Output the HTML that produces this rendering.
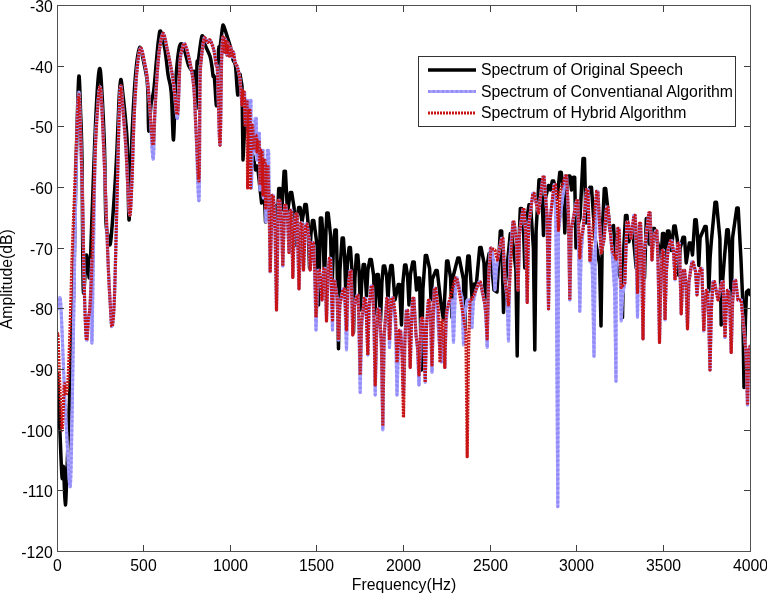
<!DOCTYPE html>
<html><head><meta charset="utf-8"><style>
html,body{margin:0;padding:0;background:#fff;width:767px;height:593px;overflow:hidden}
svg{display:block;will-change:transform}
text{font-family:"Liberation Sans",sans-serif;font-size:15.8px;fill:#000}
</style></head><body>
<svg width="767" height="593" viewBox="0 0 767 593">
<defs><clipPath id="c"><rect x="57.5" y="5.5" width="693.0" height="546.0"/></clipPath></defs>
<g clip-path="url(#c)" fill="none" stroke-linejoin="round">
<path d="M57.5 372.0C57.8 380.0 58.8 402.5 59.5 420.0C60.2 437.5 61.3 469.2 62.0 477.0C62.7 484.8 63.0 462.3 63.5 467.0C64.0 471.7 64.7 504.5 65.3 505.0C65.9 505.5 66.3 487.5 67.0 470.0C67.7 452.5 68.7 423.3 69.5 400.0C70.3 376.7 71.3 347.3 72.0 330.0C72.7 312.7 73.0 314.3 73.5 296.0C74.0 277.7 74.5 244.3 75.0 220.0C75.5 195.7 75.9 173.8 76.5 150.0C77.1 126.2 78.1 83.7 78.8 77.0C79.4 70.3 80.0 96.2 80.5 110.0C81.0 123.8 81.5 130.0 82.0 160.0C82.5 190.0 82.6 274.2 83.3 290.0C84.0 305.8 85.4 257.1 86.4 255.0C87.4 252.9 88.7 281.7 89.5 277.5C90.3 273.3 90.7 251.6 91.5 230.0C92.3 208.4 93.6 170.5 94.5 148.0C95.4 125.5 96.2 108.2 97.0 95.0C97.8 81.8 98.8 70.4 99.5 68.8C100.2 67.1 100.7 71.8 101.5 85.0C102.3 98.2 103.8 125.8 104.5 148.0C105.2 170.2 105.2 203.3 105.8 218.0C106.3 232.7 107.2 231.8 108.0 236.0C108.8 240.2 109.5 249.0 110.5 243.0C111.5 237.0 112.9 215.8 114.0 200.0C115.1 184.2 116.2 164.7 117.0 148.0C117.8 131.3 118.4 111.4 119.0 100.0C119.6 88.6 120.1 80.3 120.8 79.5C121.4 78.7 122.1 87.4 123.0 95.0C123.9 102.6 125.2 115.8 126.0 125.0C126.8 134.2 127.0 134.2 127.5 150.0C128.0 165.8 128.4 218.3 129.0 220.0C129.6 221.7 130.2 180.0 131.0 160.0C131.8 140.0 132.8 115.8 133.8 100.0C134.7 84.2 135.5 73.8 136.5 65.0C137.5 56.2 138.5 47.7 139.8 47.2C141.0 46.8 142.6 57.2 143.8 62.5C144.9 67.8 146.2 73.3 146.9 78.8C147.6 84.2 147.7 86.3 148.0 95.0C148.3 103.7 148.2 129.3 148.8 131.0C149.2 132.7 150.2 111.8 151.0 105.0C151.8 98.2 152.8 97.5 153.8 90.0C154.7 82.5 155.7 68.3 156.5 60.0C157.3 51.7 157.8 44.8 158.5 40.0C159.2 35.2 159.5 29.6 160.6 31.2C161.7 32.9 163.8 42.7 165.0 50.0C166.2 57.3 167.1 68.0 168.1 75.0C169.1 82.0 170.3 81.2 171.2 92.0C172.2 102.8 172.8 141.3 173.5 140.0C174.2 138.7 174.7 99.0 175.6 84.0C176.5 69.0 177.7 56.7 178.8 50.0C179.8 43.3 180.9 43.4 181.9 43.8C182.9 44.1 183.9 48.3 185.0 52.0C186.1 55.7 187.4 62.6 188.8 66.0C190.1 69.4 192.2 71.2 193.1 72.5C194.0 73.8 193.9 68.0 194.4 74.0C194.9 80.0 195.6 110.4 196.0 108.8C196.4 107.1 196.7 71.7 197.0 64.0C197.3 56.3 197.3 67.1 198.1 62.5C198.9 57.9 200.7 39.0 201.9 36.2C203.2 33.5 204.2 42.9 205.6 46.2C206.9 49.6 208.9 52.9 210.0 56.2C211.1 59.6 211.4 62.9 211.9 66.2C212.4 69.6 212.7 74.4 213.1 76.2C213.5 78.1 213.8 72.6 214.4 77.5C215.0 82.4 216.0 107.9 216.6 105.6C217.2 103.3 217.7 73.4 218.1 63.8C218.5 54.1 218.4 50.2 218.8 47.5C219.1 44.8 219.4 50.8 220.0 47.5C220.6 44.2 221.9 31.0 222.5 27.5C223.1 24.0 222.9 24.6 223.8 26.2C224.6 27.9 226.4 34.0 227.5 37.5C228.6 41.0 229.7 43.8 230.6 47.5C231.5 51.2 232.3 56.9 233.1 60.0C233.9 63.1 234.7 60.2 235.5 66.0C236.3 71.8 237.1 93.7 237.8 95.0C238.6 96.3 239.3 75.5 240.0 74.0L242.0 86.0L243.0 160.0L244.3 135.5L245.3 125.6L246.7 125.6L249.0 135.0L251.5 150.0L254.0 161.0L255.5 170.0L257.0 166.0L258.0 170.0L261.6 203.0L262.8 190.6L264.2 190.6L265.5 222.0L267.3 200.6L268.7 200.6L269.6 210.5L271.0 235.0L272.4 214.0L273.8 205.6L275.2 205.6L277.0 230.0L278.7 188.6L280.1 188.6L281.9 210.0L284.1 171.2L285.4 171.2L287.5 212.5L290.3 192.5L291.7 192.5L294.1 207.8L295.5 245.0L296.9 218.4L298.7 207.6L300.1 207.6L302.0 222.0L304.9 204.6L306.3 204.6L308.1 223.2L309.5 268.0L310.9 234.4L312.4 220.6L313.8 220.6L317.1 245.5L318.5 305.0L319.9 243.8L320.3 218.1L321.7 218.1L323.1 236.8L324.5 282.0L325.9 233.3L326.8 213.1L328.2 213.1L330.6 235.8L332.0 290.0L333.4 247.6L334.9 230.0L336.3 230.0L337.1 265.2L338.5 348.8L339.9 270.9L342.1 238.1L343.4 238.1L344.6 256.2L346.0 300.0L347.4 262.9L349.1 247.6L350.4 247.6L352.1 272.6L353.5 332.5L354.9 277.8L356.4 255.0L357.8 255.0L359.1 271.1L360.5 310.0L361.9 277.8L363.2 264.6L364.6 264.6L365.1 273.6L366.5 296.0L367.9 269.9L369.9 259.4L371.3 259.4L373.6 275.3L375.0 314.0L376.4 285.8L376.9 274.4L378.3 274.4L379.1 288.2L380.5 322.0L381.9 282.4L383.3 266.1L384.7 266.1L386.6 275.9L388.0 300.0L389.4 275.5L390.8 265.6L392.2 265.6L395.0 300.0L398.3 284.4L399.7 284.4L400.1 296.1L401.5 325.0L402.9 282.6L404.6 265.1L405.9 265.1L407.6 276.6L409.0 305.0L410.4 274.4L412.8 261.9L414.2 261.9L416.5 290.0L418.3 278.1L419.7 278.1L420.1 305.2L421.5 370.0L422.9 289.5L425.3 255.6L426.7 255.6L429.6 268.5L431.0 300.0L432.4 279.0L435.8 270.6L437.2 270.6L441.0 304.0L443.5 320.0L446.6 261.1L447.9 261.1L450.6 277.6L452.0 317.5L453.4 275.5L457.8 258.1L459.2 258.1L463.4 279.2L464.8 330.0L466.1 277.9L467.8 256.1L469.2 256.1L472.2 300.0L474.0 284.0L476.0 288.0L479.7 247.6L481.1 247.6L484.0 262.9L485.4 300.0L486.8 267.1L489.1 253.6L490.4 253.6L494.0 290.0L497.0 292.0L500.3 231.1L501.7 231.1L502.1 255.1L503.5 312.5L504.9 288.4L506.0 278.0L510.3 233.6L511.7 233.6L515.9 269.9L517.2 356.0L518.6 252.4L520.3 208.6L521.7 208.6L523.4 226.0L524.8 268.0L526.1 223.4L529.0 204.8L530.5 204.8L533.4 248.0L534.8 350.0L536.1 230.5L539.0 179.8L540.5 179.8L542.1 196.1L543.5 235.5L544.9 200.5L548.5 185.5L550.5 190.0L552.3 181.1L553.7 181.1L557.2 198.0L559.8 172.3L561.2 172.3L563.4 190.1L564.8 233.0L566.1 192.8L568.5 176.1L570.0 176.1L571.5 190.0L573.3 177.3L574.7 177.3L576.0 248.0L577.4 227.0L580.0 218.0L583.0 158.6L584.5 158.6L586.0 223.0L587.4 197.6L590.0 187.3L591.5 187.3L595.0 238.0L599.6 264.4L601.0 326.0L602.4 229.4L604.3 188.6L605.7 188.6L610.0 230.5L613.5 225.5L616.2 264.2L621.1 280.2L622.5 317.5L623.9 245.8L625.5 215.6L627.0 215.6L628.8 241.8L631.3 230.6L632.7 230.6L636.2 268.0L642.5 275.0L644.5 278.0L646.3 218.6L647.7 218.6L649.5 244.2L653.0 228.6L654.5 228.6L661.2 258.0L662.5 233.6L664.0 233.6L664.9 241.2L666.2 260.5L667.5 231.1L669.0 231.1L671.2 250.5L673.8 226.1L675.2 226.1L677.4 240.5L678.8 275.5L680.1 248.4L683.0 237.3L684.5 237.3L686.2 263.0L689.3 243.1L690.7 243.1L692.5 255.0L694.8 219.8L696.2 219.8L697.4 233.1L698.8 265.5L700.1 237.8L704.8 226.6L706.2 226.6L707.4 245.7L708.8 291.8L710.1 257.6L711.2 243.0L715.0 202.3L716.5 202.3L719.9 238.7L721.2 325.0L722.6 281.6L724.0 263.0L726.8 229.8L728.2 229.8L729.9 252.7L731.2 307.5L732.6 237.5L736.8 208.1L738.2 208.1L741.0 260.0L742.6 298.2L744.0 387.5L745.4 320.6L746.5 292.0L748.5 290.0L750.5 296.0" stroke="#000" stroke-width="3.5"/>
<path d="M57.5 310.0C57.9 308.0 59.4 294.7 60.1 298.0C60.9 301.3 61.4 316.3 62.0 330.0C62.6 343.7 63.2 361.7 64.0 380.0C64.8 398.3 66.0 422.2 67.0 440.0C68.0 457.8 69.4 489.8 70.2 486.5C71.0 483.2 71.4 451.1 72.0 420.0C72.6 388.9 73.2 345.0 74.0 300.0C74.8 255.0 75.7 184.6 76.5 150.0C77.3 115.4 78.1 95.8 78.8 92.5C79.4 89.2 79.9 112.1 80.5 130.0C81.1 147.9 81.8 172.3 82.5 200.0C83.2 227.7 83.8 272.7 84.5 296.0C85.2 319.3 85.8 336.3 86.5 340.0C87.2 343.7 87.9 323.7 88.5 318.0C89.1 312.3 89.4 315.7 90.0 306.0C90.6 296.3 91.7 254.2 92.0 260.0C92.3 265.8 91.5 357.7 92.0 341.0C92.5 324.3 94.1 198.5 95.0 160.0C95.9 121.5 96.7 122.2 97.5 110.0C98.3 97.8 99.2 86.7 100.0 86.7C100.8 86.7 101.2 94.5 102.0 110.0C102.8 125.5 104.0 155.0 105.0 180.0C106.0 205.0 107.2 240.0 108.0 260.0C108.8 280.0 109.3 288.9 110.0 300.0C110.7 311.1 111.2 327.3 112.0 326.6C112.8 325.9 113.7 317.1 114.5 296.0C115.3 274.9 116.2 229.3 117.0 200.0C117.8 170.7 118.4 139.0 119.0 120.0C119.6 101.0 120.0 87.7 120.7 86.0C121.4 84.3 122.1 99.3 123.0 110.0C123.9 120.7 125.2 136.7 126.0 150.0C126.8 163.3 127.3 179.2 128.0 190.0C128.7 200.8 129.3 216.7 130.0 215.0C130.7 213.3 131.3 195.8 132.0 180.0C132.7 164.2 133.2 138.3 134.0 120.0C134.8 101.7 135.9 82.0 137.0 70.0C138.1 58.0 139.3 48.9 140.6 48.1C141.9 47.3 143.8 59.5 145.0 65.0C146.2 70.5 146.7 73.5 147.5 81.0C148.3 88.5 149.1 96.9 150.0 110.0C150.9 123.1 152.3 159.4 153.1 159.4C153.9 159.4 154.3 124.9 155.0 110.0C155.7 95.1 156.7 80.7 157.5 70.0C158.3 59.3 159.0 52.1 160.0 46.0C161.0 39.9 162.1 33.0 163.3 33.3C164.5 33.6 165.7 42.1 167.0 48.0C168.3 53.9 170.1 62.6 171.2 68.8C172.4 74.9 172.7 76.8 173.8 85.0C174.8 93.2 176.5 121.8 177.5 118.0C178.5 114.2 179.2 74.2 180.0 62.5C180.8 50.8 181.7 51.0 182.5 48.0C183.3 45.0 183.8 42.0 185.0 44.4C186.2 46.8 188.5 55.3 190.0 62.5C191.5 69.7 192.8 76.2 193.8 87.5C194.8 98.8 195.1 111.2 196.0 130.0C196.9 148.8 198.3 207.7 199.0 200.0C199.7 192.3 199.6 107.3 200.0 84.0C200.4 60.7 200.6 67.3 201.2 60.0C201.9 52.7 203.1 43.6 203.8 40.0C204.4 36.4 204.4 37.7 205.0 38.1C205.6 38.5 206.7 42.2 207.5 42.5C208.3 42.8 209.0 38.8 210.0 40.0C211.0 41.2 212.7 45.8 213.8 50.0C214.8 54.2 215.6 61.2 216.2 65.0C216.9 68.8 216.9 59.2 217.5 72.5C218.1 85.8 219.3 147.1 220.0 145.0C220.7 142.9 221.1 78.0 221.6 60.0C222.1 42.0 222.6 38.3 223.0 37.0C223.4 35.7 223.9 51.7 224.3 52.0C224.7 52.3 225.1 38.5 225.5 39.0C225.9 39.5 226.4 54.3 226.8 55.0C227.2 55.7 227.6 42.8 228.0 43.0C228.4 43.2 228.9 55.3 229.3 56.0C229.7 56.7 230.2 46.8 230.6 47.0C231.0 47.2 231.5 56.2 232.0 57.0C232.5 57.8 232.9 51.2 233.4 52.0C233.9 52.8 234.3 59.4 235.0 62.0C235.7 64.6 236.7 64.5 237.5 67.5C238.3 70.5 239.2 73.8 240.0 80.0L242.0 105.0L243.4 92.4L244.6 92.4L245.5 125.0L246.9 100.4L248.1 100.4L248.5 165.0L249.7 100.4L250.9 100.4L251.5 188.0L252.4 130.4L253.6 130.4L254.2 152.0L255.0 118.4L256.2 118.4L257.0 160.0L258.2 133.4L259.4 133.4L260.0 190.0L261.4 162.0L261.9 150.4L263.1 150.4L263.3 198.0L264.4 162.4L265.6 162.4L265.9 222.0L267.4 150.4L268.6 150.4L270.2 272.0L271.6 218.1L272.1 195.4L273.4 195.4L275.1 229.5L276.5 310.0L277.9 233.0L278.4 200.4L279.6 200.4L281.4 219.8L282.8 266.0L284.1 223.3L284.6 205.4L285.9 205.4L287.6 219.2L289.0 252.5L290.4 210.4L291.6 210.4L292.8 277.5L294.1 232.9L295.9 214.2L297.1 214.2L297.6 236.2L299.0 288.8L300.4 242.4L300.9 222.9L302.1 222.9L303.5 270.0L304.9 237.6L305.9 224.2L307.1 224.2L308.9 237.6L310.2 270.0L311.6 250.8L312.1 242.9L313.4 242.9L314.6 268.8L316.0 330.0L317.4 288.0L318.1 270.4L319.4 270.4L320.6 279.0L322.0 300.0L323.4 277.6L323.9 268.4L325.1 268.4L326.5 321.0L327.9 276.9L329.4 258.4L330.6 258.4L331.1 279.6L332.5 330.0L333.4 280.4L334.6 280.4L337.1 298.0L338.5 340.0L339.9 304.1L343.1 289.1L344.4 289.1L345.1 307.1L346.5 350.0L347.9 294.4L350.0 271.0L351.2 271.0L352.8 335.0L354.1 307.0L356.9 295.4L358.1 295.4L358.9 324.2L360.2 392.5L361.6 326.4L364.4 298.4L365.6 298.4L366.4 315.1L367.8 355.0L369.1 306.4L371.3 286.0L372.5 286.0L373.9 318.4L375.2 395.0L376.6 334.6L378.1 309.1L379.4 309.1L381.4 345.1L382.8 430.0L384.1 337.6L386.9 298.4L388.1 298.4L389.5 347.5L390.9 312.5L391.9 297.9L393.1 297.9L395.6 326.8L397.0 395.0L398.4 349.5L399.4 330.4L400.6 330.4L402.1 349.5L403.5 395.0L404.9 335.5L406.4 310.4L407.6 310.4L408.9 327.2L410.2 367.5L411.6 318.9L412.7 298.4L413.9 298.4L416.0 335.0L417.6 350.0L419.0 385.0L420.4 338.1L421.4 318.4L422.6 318.4L423.9 337.4L425.2 382.5L426.6 324.8L428.4 300.4L429.6 300.4L430.6 321.8L432.0 372.5L433.4 313.4L434.4 288.4L435.6 288.4L439.5 345.0L441.5 362.0L442.4 330.4L443.6 330.4L444.8 367.5L446.1 321.6L448.5 302.0L451.9 300.0L453.5 342.5L455.0 300.0L455.6 277.9L456.9 277.9L462.1 297.8L463.5 345.0L464.9 313.5L467.2 300.0L470.0 300.0L472.0 327.5L473.4 301.2L476.0 290.0L479.1 282.1L480.4 282.1L484.8 304.0L485.9 317.1L487.2 347.5L488.6 277.9L490.4 248.4L491.6 248.4L493.6 260.6L495.0 290.0L496.4 269.0L497.5 260.0L501.6 238.4L502.9 238.4L505.0 280.0L507.1 298.4L508.5 341.2L509.9 257.6L512.9 222.2L514.1 222.2L516.6 242.2L518.0 290.0L519.4 233.5L522.9 209.7L524.1 209.7L525.9 237.2L527.2 302.5L528.6 225.8L532.9 193.4L534.1 193.4L538.5 213.0L542.9 177.2L544.1 177.2L547.1 216.3L548.5 308.8L549.9 221.6L554.1 184.7L555.4 184.7L556.4 281.0L557.8 506.7L558.5 230.5L565.4 175.9L566.6 175.9L568.4 212.8L569.8 300.0L571.1 230.3L576.6 200.9L577.9 200.9L578.4 233.7L579.8 311.2L581.1 254.4L583.0 230.0L586.6 189.7L587.9 189.7L590.0 261.8L590.4 248.4L591.6 248.4L592.6 280.5L594.0 356.2L595.4 240.6L596.6 191.4L597.9 191.4L601.2 253.0L604.0 240.0L606.6 207.2L607.9 207.2L612.0 250.0L614.6 289.4L616.0 381.2L616.2 259.2L617.9 228.4L619.1 228.4L619.9 256.0L621.2 321.2L622.6 294.5L624.8 283.0L626.9 222.2L628.1 222.2L631.2 238.0L633.9 215.4L635.1 215.4L636.1 245.8L637.5 317.5L638.9 251.3L639.4 223.4L640.6 223.4L641.6 257.7L643.0 338.8L644.4 250.4L648.9 212.9L650.1 212.9L650.6 226.8L652.0 260.0L653.4 239.3L655.6 230.9L656.9 230.9L658.1 264.1L659.5 342.5L660.9 277.8L662.4 250.4L663.6 250.4L665.0 320.0L666.4 271.0L668.0 250.0L670.6 240.9L671.9 240.9L673.6 252.3L675.0 280.0L676.4 254.1L678.1 243.4L679.4 243.4L679.9 264.2L681.2 313.8L682.6 283.1L683.4 270.4L684.6 270.4L686.1 287.6L687.5 328.8L688.9 281.9L691.9 262.1L693.1 262.1L695.6 271.7L697.0 295.0L698.4 276.1L700.6 268.4L701.9 268.4L702.4 287.0L703.8 331.2L705.1 302.4L706.4 290.4L707.6 290.4L708.6 314.0L710.0 370.0L711.4 307.9L713.1 281.6L714.4 281.6L718.0 300.0L721.9 281.6L723.1 281.6L723.6 298.1L725.0 337.5L726.4 304.2L727.4 290.4L728.6 290.4L729.9 308.8L731.2 352.5L732.6 301.8L734.4 280.4L735.6 280.4L738.0 300.0L741.2 300.0L744.0 330.0L746.1 352.5L747.5 405.0L749.0 350.0L750.5 345.0" stroke="#aba6fd" stroke-width="3.2"/>
<path d="M57.5 310.0C57.9 308.0 59.4 294.7 60.1 298.0C60.9 301.3 61.4 316.3 62.0 330.0C62.6 343.7 63.2 361.7 64.0 380.0C64.8 398.3 66.0 422.2 67.0 440.0C68.0 457.8 69.4 489.8 70.2 486.5C71.0 483.2 71.4 451.1 72.0 420.0C72.6 388.9 73.2 345.0 74.0 300.0C74.8 255.0 75.7 184.6 76.5 150.0C77.3 115.4 78.1 95.8 78.8 92.5C79.4 89.2 79.9 112.1 80.5 130.0C81.1 147.9 81.8 172.3 82.5 200.0C83.2 227.7 83.8 272.7 84.5 296.0C85.2 319.3 85.8 336.3 86.5 340.0C87.2 343.7 87.9 323.7 88.5 318.0C89.1 312.3 89.4 315.7 90.0 306.0C90.6 296.3 91.7 254.2 92.0 260.0C92.3 265.8 91.5 357.7 92.0 341.0C92.5 324.3 94.1 198.5 95.0 160.0C95.9 121.5 96.7 122.2 97.5 110.0C98.3 97.8 99.2 86.7 100.0 86.7C100.8 86.7 101.2 94.5 102.0 110.0C102.8 125.5 104.0 155.0 105.0 180.0C106.0 205.0 107.2 240.0 108.0 260.0C108.8 280.0 109.3 288.9 110.0 300.0C110.7 311.1 111.2 327.3 112.0 326.6C112.8 325.9 113.7 317.1 114.5 296.0C115.3 274.9 116.2 229.3 117.0 200.0C117.8 170.7 118.4 139.0 119.0 120.0C119.6 101.0 120.0 87.7 120.7 86.0C121.4 84.3 122.1 99.3 123.0 110.0C123.9 120.7 125.2 136.7 126.0 150.0C126.8 163.3 127.3 179.2 128.0 190.0C128.7 200.8 129.3 216.7 130.0 215.0C130.7 213.3 131.3 195.8 132.0 180.0C132.7 164.2 133.2 138.3 134.0 120.0C134.8 101.7 135.9 82.0 137.0 70.0C138.1 58.0 139.3 48.9 140.6 48.1C141.9 47.3 143.8 59.5 145.0 65.0C146.2 70.5 146.7 73.5 147.5 81.0C148.3 88.5 149.1 96.9 150.0 110.0C150.9 123.1 152.3 159.4 153.1 159.4C153.9 159.4 154.3 124.9 155.0 110.0C155.7 95.1 156.7 80.7 157.5 70.0C158.3 59.3 159.0 52.1 160.0 46.0C161.0 39.9 162.1 33.0 163.3 33.3C164.5 33.6 165.7 42.1 167.0 48.0C168.3 53.9 170.1 62.6 171.2 68.8C172.4 74.9 172.7 76.8 173.8 85.0C174.8 93.2 176.5 121.8 177.5 118.0C178.5 114.2 179.2 74.2 180.0 62.5C180.8 50.8 181.7 51.0 182.5 48.0C183.3 45.0 183.8 42.0 185.0 44.4C186.2 46.8 188.5 55.3 190.0 62.5C191.5 69.7 192.8 76.2 193.8 87.5C194.8 98.8 195.1 111.2 196.0 130.0C196.9 148.8 198.3 207.7 199.0 200.0C199.7 192.3 199.6 107.3 200.0 84.0C200.4 60.7 200.6 67.3 201.2 60.0C201.9 52.7 203.1 43.6 203.8 40.0C204.4 36.4 204.4 37.7 205.0 38.1C205.6 38.5 206.7 42.2 207.5 42.5C208.3 42.8 209.0 38.8 210.0 40.0C211.0 41.2 212.7 45.8 213.8 50.0C214.8 54.2 215.6 61.2 216.2 65.0C216.9 68.8 216.9 59.2 217.5 72.5C218.1 85.8 219.3 147.1 220.0 145.0C220.7 142.9 221.1 78.0 221.6 60.0C222.1 42.0 222.6 38.3 223.0 37.0C223.4 35.7 223.9 51.7 224.3 52.0C224.7 52.3 225.1 38.5 225.5 39.0C225.9 39.5 226.4 54.3 226.8 55.0C227.2 55.7 227.6 42.8 228.0 43.0C228.4 43.2 228.9 55.3 229.3 56.0C229.7 56.7 230.2 46.8 230.6 47.0C231.0 47.2 231.5 56.2 232.0 57.0C232.5 57.8 232.9 51.2 233.4 52.0C233.9 52.8 234.3 59.4 235.0 62.0C235.7 64.6 236.7 64.5 237.5 67.5C238.3 70.5 239.2 73.8 240.0 80.0L242.0 105.0L243.4 92.4L244.6 92.4L245.5 125.0L246.9 100.4L248.1 100.4L248.5 165.0L249.7 100.4L250.9 100.4L251.5 188.0L252.4 130.4L253.6 130.4L254.2 152.0L255.0 118.4L256.2 118.4L257.0 160.0L258.2 133.4L259.4 133.4L260.0 190.0L261.4 162.0L261.9 150.4L263.1 150.4L263.3 198.0L264.4 162.4L265.6 162.4L265.9 222.0L267.4 150.4L268.6 150.4L270.2 272.0L271.6 218.1L272.1 195.4L273.4 195.4L275.1 229.5L276.5 310.0L277.9 233.0L278.4 200.4L279.6 200.4L281.4 219.8L282.8 266.0L284.1 223.3L284.6 205.4L285.9 205.4L287.6 219.2L289.0 252.5L290.4 210.4L291.6 210.4L292.8 277.5L294.1 232.9L295.9 214.2L297.1 214.2L297.6 236.2L299.0 288.8L300.4 242.4L300.9 222.9L302.1 222.9L303.5 270.0L304.9 237.6L305.9 224.2L307.1 224.2L308.9 237.6L310.2 270.0L311.6 250.8L312.1 242.9L313.4 242.9L314.6 268.8L316.0 330.0L317.4 288.0L318.1 270.4L319.4 270.4L320.6 279.0L322.0 300.0L323.4 277.6L323.9 268.4L325.1 268.4L326.5 321.0L327.9 276.9L329.4 258.4L330.6 258.4L331.1 279.6L332.5 330.0L333.4 280.4L334.6 280.4L337.1 298.0L338.5 340.0L339.9 304.1L343.1 289.1L344.4 289.1L345.1 307.1L346.5 350.0L347.9 294.4L350.0 271.0L351.2 271.0L352.8 335.0L354.1 307.0L356.9 295.4L358.1 295.4L358.9 324.2L360.2 392.5L361.6 326.4L364.4 298.4L365.6 298.4L366.4 315.1L367.8 355.0L369.1 306.4L371.3 286.0L372.5 286.0L373.9 318.4L375.2 395.0L376.6 334.6L378.1 309.1L379.4 309.1L381.4 345.1L382.8 430.0L384.1 337.6L386.9 298.4L388.1 298.4L389.5 347.5L390.9 312.5L391.9 297.9L393.1 297.9L395.6 326.8L397.0 395.0L398.4 349.5L399.4 330.4L400.6 330.4L402.1 349.5L403.5 395.0L404.9 335.5L406.4 310.4L407.6 310.4L408.9 327.2L410.2 367.5L411.6 318.9L412.7 298.4L413.9 298.4L416.0 335.0L417.6 350.0L419.0 385.0L420.4 338.1L421.4 318.4L422.6 318.4L423.9 337.4L425.2 382.5L426.6 324.8L428.4 300.4L429.6 300.4L430.6 321.8L432.0 372.5L433.4 313.4L434.4 288.4L435.6 288.4L439.5 345.0L441.5 362.0L442.4 330.4L443.6 330.4L444.8 367.5L446.1 321.6L448.5 302.0L451.9 300.0L453.5 342.5L455.0 300.0L455.6 277.9L456.9 277.9L462.1 297.8L463.5 345.0L464.9 313.5L467.2 300.0L470.0 300.0L472.0 327.5L473.4 301.2L476.0 290.0L479.1 282.1L480.4 282.1L484.8 304.0L485.9 317.1L487.2 347.5L488.6 277.9L490.4 248.4L491.6 248.4L493.6 260.6L495.0 290.0L496.4 269.0L497.5 260.0L501.6 238.4L502.9 238.4L505.0 280.0L507.1 298.4L508.5 341.2L509.9 257.6L512.9 222.2L514.1 222.2L516.6 242.2L518.0 290.0L519.4 233.5L522.9 209.7L524.1 209.7L525.9 237.2L527.2 302.5L528.6 225.8L532.9 193.4L534.1 193.4L538.5 213.0L542.9 177.2L544.1 177.2L547.1 216.3L548.5 308.8L549.9 221.6L554.1 184.7L555.4 184.7L556.4 281.0L557.8 506.7L558.5 230.5L565.4 175.9L566.6 175.9L568.4 212.8L569.8 300.0L571.1 230.3L576.6 200.9L577.9 200.9L578.4 233.7L579.8 311.2L581.1 254.4L583.0 230.0L586.6 189.7L587.9 189.7L590.0 261.8L590.4 248.4L591.6 248.4L592.6 280.5L594.0 356.2L595.4 240.6L596.6 191.4L597.9 191.4L601.2 253.0L604.0 240.0L606.6 207.2L607.9 207.2L612.0 250.0L614.6 289.4L616.0 381.2L616.2 259.2L617.9 228.4L619.1 228.4L619.9 256.0L621.2 321.2L622.6 294.5L624.8 283.0L626.9 222.2L628.1 222.2L631.2 238.0L633.9 215.4L635.1 215.4L636.1 245.8L637.5 317.5L638.9 251.3L639.4 223.4L640.6 223.4L641.6 257.7L643.0 338.8L644.4 250.4L648.9 212.9L650.1 212.9L650.6 226.8L652.0 260.0L653.4 239.3L655.6 230.9L656.9 230.9L658.1 264.1L659.5 342.5L660.9 277.8L662.4 250.4L663.6 250.4L665.0 320.0L666.4 271.0L668.0 250.0L670.6 240.9L671.9 240.9L673.6 252.3L675.0 280.0L676.4 254.1L678.1 243.4L679.4 243.4L679.9 264.2L681.2 313.8L682.6 283.1L683.4 270.4L684.6 270.4L686.1 287.6L687.5 328.8L688.9 281.9L691.9 262.1L693.1 262.1L695.6 271.7L697.0 295.0L698.4 276.1L700.6 268.4L701.9 268.4L702.4 287.0L703.8 331.2L705.1 302.4L706.4 290.4L707.6 290.4L708.6 314.0L710.0 370.0L711.4 307.9L713.1 281.6L714.4 281.6L718.0 300.0L721.9 281.6L723.1 281.6L723.6 298.1L725.0 337.5L726.4 304.2L727.4 290.4L728.6 290.4L729.9 308.8L731.2 352.5L732.6 301.8L734.4 280.4L735.6 280.4L738.0 300.0L741.2 300.0L744.0 330.0L746.1 352.5L747.5 405.0L749.0 350.0L750.5 345.0" stroke="#948cf9" stroke-width="3" stroke-dasharray="2.3 2.3"/>
<path d="M57.5 335.0C57.6 335.6 57.7 329.5 58.1 338.7C58.5 347.9 59.3 374.8 60.0 390.0C60.7 405.2 61.4 430.8 62.1 430.0C62.8 429.2 63.6 390.8 64.2 385.0C64.9 379.2 65.4 395.8 66.0 395.0C66.6 394.2 67.3 390.8 68.0 380.0C68.7 369.2 69.3 350.0 70.0 330.0C70.7 310.0 71.3 281.7 72.0 260.0C72.7 238.3 73.5 220.0 74.3 200.0C75.0 180.0 75.8 157.5 76.5 140.0C77.2 122.5 78.1 96.7 78.8 95.0C79.4 93.3 79.9 112.5 80.5 130.0C81.1 147.5 81.8 172.3 82.5 200.0C83.2 227.7 83.8 272.7 84.5 296.0C85.2 319.3 85.8 336.3 86.5 340.0C87.2 343.7 87.9 323.7 88.5 318.0C89.1 312.3 89.4 315.7 90.0 306.0C90.6 296.3 91.2 284.3 92.0 260.0C92.8 235.7 94.1 185.0 95.0 160.0C95.9 135.0 96.7 122.2 97.5 110.0C98.3 97.8 99.2 86.7 100.0 86.7C100.8 86.7 101.2 94.5 102.0 110.0C102.8 125.5 104.0 155.0 105.0 180.0C106.0 205.0 107.2 240.0 108.0 260.0C108.8 280.0 109.3 288.9 110.0 300.0C110.7 311.1 111.2 327.3 112.0 326.6C112.8 325.9 113.7 317.1 114.5 296.0C115.3 274.9 116.2 229.3 117.0 200.0C117.8 170.7 118.4 139.0 119.0 120.0C119.6 101.0 120.0 87.7 120.7 86.0C121.4 84.3 122.1 99.3 123.0 110.0C123.9 120.7 125.2 136.7 126.0 150.0C126.8 163.3 127.3 179.2 128.0 190.0C128.7 200.8 129.3 216.7 130.0 215.0C130.7 213.3 131.3 195.8 132.0 180.0C132.7 164.2 133.2 138.3 134.0 120.0C134.8 101.7 135.9 82.0 137.0 70.0C138.1 58.0 139.3 48.9 140.6 48.1C141.9 47.3 143.8 59.5 145.0 65.0C146.2 70.5 146.7 73.5 147.5 81.0C148.3 88.5 149.1 99.3 150.0 110.0C150.9 120.7 152.3 145.0 153.1 145.0C153.9 145.0 154.3 122.5 155.0 110.0C155.7 97.5 156.7 80.7 157.5 70.0C158.3 59.3 159.0 52.1 160.0 46.0C161.0 39.9 162.1 33.0 163.3 33.3C164.5 33.6 165.7 42.1 167.0 48.0C168.3 53.9 170.1 62.6 171.2 68.8C172.4 74.9 172.7 77.4 173.8 85.0C174.8 92.6 176.5 118.2 177.5 114.4C178.5 110.7 179.2 73.6 180.0 62.5C180.8 51.4 181.7 51.0 182.5 48.0C183.3 45.0 183.8 42.0 185.0 44.4C186.2 46.8 188.5 55.3 190.0 62.5C191.5 69.7 192.8 76.2 193.8 87.5C194.8 98.8 195.1 114.6 196.0 130.0C196.9 145.4 198.3 187.7 199.0 180.0C199.7 172.3 199.6 104.0 200.0 84.0C200.4 64.0 200.6 67.3 201.2 60.0C201.9 52.7 203.1 43.6 203.8 40.0C204.4 36.4 204.4 37.7 205.0 38.1C205.6 38.5 206.7 42.2 207.5 42.5C208.3 42.8 209.0 38.8 210.0 40.0C211.0 41.2 212.7 45.8 213.8 50.0C214.8 54.2 215.6 61.2 216.2 65.0C216.9 68.8 216.9 59.2 217.5 72.5C218.1 85.8 219.3 147.1 220.0 145.0C220.7 142.9 221.1 78.0 221.6 60.0C222.1 42.0 222.6 38.3 223.0 37.0C223.4 35.7 223.9 51.7 224.3 52.0C224.7 52.3 225.1 38.5 225.5 39.0C225.9 39.5 226.4 54.3 226.8 55.0C227.2 55.7 227.6 42.8 228.0 43.0C228.4 43.2 228.9 55.3 229.3 56.0C229.7 56.7 230.2 46.8 230.6 47.0C231.0 47.2 231.5 56.2 232.0 57.0C232.5 57.8 232.9 51.2 233.4 52.0C233.9 52.8 234.3 59.4 235.0 62.0C235.7 64.6 236.7 64.5 237.5 67.5C238.3 70.5 239.2 73.8 240.0 80.0L242.0 105.0L242.9 90.4L244.1 90.4L245.0 125.0L245.9 100.4L247.1 100.4L247.6 188.0L248.9 110.4L250.1 110.4L250.5 188.0L251.4 125.4L252.6 125.4L254.0 150.0L254.9 135.4L256.1 135.4L257.0 152.0L257.9 140.4L259.1 140.4L260.0 185.0L260.9 150.4L262.1 150.4L263.0 195.0L263.7 160.4L264.9 160.4L265.7 208.0L266.7 165.4L267.9 165.4L268.9 197.2L270.2 272.5L271.6 218.2L272.1 195.4L273.4 195.4L275.1 229.5L276.5 310.0L277.9 233.0L278.4 200.4L279.6 200.4L281.4 219.8L282.8 266.0L284.1 223.3L284.6 205.4L285.9 205.4L287.6 219.2L289.0 252.5L290.4 210.4L291.6 210.4L292.8 277.5L294.1 232.9L295.9 214.2L297.1 214.2L297.6 236.2L299.0 288.8L300.4 242.4L300.9 222.9L302.1 222.9L303.5 270.0L304.9 237.6L305.9 224.2L307.1 224.2L308.9 237.6L310.2 270.0L311.6 250.8L312.1 242.9L313.4 242.9L314.6 265.0L316.0 317.5L317.4 284.2L318.1 270.4L319.4 270.4L320.6 279.0L322.0 300.0L323.4 277.6L323.9 268.4L325.1 268.4L326.5 321.0L327.9 276.9L329.4 258.4L330.6 258.4L331.1 276.6L332.5 320.0L333.4 280.4L334.6 280.4L337.1 298.0L338.5 340.0L339.9 304.1L343.1 289.1L344.4 289.1L345.1 301.1L346.5 330.0L347.9 288.4L350.0 271.0L351.2 271.0L352.8 335.0L354.1 307.0L356.9 295.4L358.1 295.4L358.9 319.0L360.2 375.0L361.6 321.1L364.4 298.4L365.6 298.4L366.4 315.1L367.8 355.0L369.1 306.4L371.3 286.0L372.5 286.0L373.9 315.4L375.2 385.0L376.6 331.6L378.1 309.1L379.4 309.1L381.4 343.9L382.8 426.0L384.1 336.4L386.9 298.4L388.1 298.4L389.5 340.0L390.9 310.2L391.9 297.9L393.1 297.9L395.6 317.0L397.0 362.5L398.4 339.8L399.4 330.4L400.6 330.4L402.1 356.2L403.5 417.5L404.9 342.2L406.4 310.4L407.6 310.4L408.9 327.2L410.2 367.5L411.6 318.9L412.7 298.4L413.9 298.4L416.0 335.0L417.6 347.0L419.0 375.0L420.4 335.1L421.4 318.4L422.6 318.4L423.9 337.4L425.2 382.5L426.6 324.8L428.4 300.4L429.6 300.4L430.6 319.5L432.0 365.0L433.4 311.1L434.4 288.4L435.6 288.4L438.6 310.4L440.0 362.5L441.4 320.4L442.6 320.4L443.4 334.2L444.8 367.5L446.1 313.9L451.9 291.0L455.6 277.9L456.9 277.9L465.9 331.3L467.2 456.7L468.6 347.0L470.0 300.0L472.0 299.0L476.0 290.0L479.1 282.1L480.4 282.1L484.8 304.0L485.9 314.4L487.2 338.8L488.6 275.2L491.0 248.0L495.0 250.0L497.5 260.0L501.6 238.4L502.9 238.4L505.0 280.0L508.5 305.0L512.9 222.2L514.1 222.2L516.6 242.2L518.0 290.0L519.4 233.5L522.9 209.7L524.1 209.7L525.9 237.2L527.2 302.5L528.6 225.8L532.9 193.4L534.1 193.4L538.5 213.0L542.9 177.2L544.1 177.2L547.1 216.3L548.5 308.8L549.9 221.6L554.1 184.7L555.4 184.7L557.1 198.1L558.5 230.5L559.9 192.0L565.4 175.9L566.6 175.9L568.4 212.8L569.8 300.0L571.1 230.3L576.6 200.9L577.9 200.9L578.4 217.8L579.8 258.0L581.1 238.4L583.0 230.0L586.6 189.7L587.9 189.7L590.0 261.8L591.0 248.0L596.6 191.4L597.9 191.4L601.2 253.0L604.0 240.0L606.6 207.2L607.9 207.2L612.0 250.0L616.2 259.2L617.9 228.4L619.1 228.4L621.2 287.5L624.8 283.0L626.9 222.2L628.1 222.2L631.2 238.0L633.9 215.4L635.1 215.4L636.1 238.2L637.5 292.5L638.9 243.8L639.4 223.4L640.6 223.4L641.6 257.7L643.0 338.8L644.4 250.4L648.9 212.9L650.1 212.9L650.6 226.8L652.0 260.0L653.4 239.3L655.6 230.9L656.9 230.9L658.1 264.1L659.5 342.5L660.9 277.8L662.4 250.4L663.6 250.4L665.0 320.0L666.4 271.0L668.0 250.0L670.6 240.9L671.9 240.9L673.6 252.3L675.0 280.0L676.4 254.1L678.1 243.4L679.4 243.4L679.9 264.2L681.2 313.8L682.6 283.1L683.4 270.4L684.6 270.4L686.1 287.6L687.5 328.8L688.9 281.9L691.9 262.1L693.1 262.1L695.6 271.7L697.0 295.0L698.4 276.1L700.6 268.4L701.9 268.4L702.4 287.0L703.8 331.2L705.1 302.4L706.4 290.4L707.6 290.4L708.6 314.0L710.0 370.0L711.4 307.9L713.1 281.6L714.4 281.6L718.0 300.0L721.9 281.6L723.1 281.6L723.6 298.1L725.0 337.5L726.4 304.2L727.4 290.4L728.6 290.4L729.9 308.8L731.2 352.5L732.6 301.8L734.4 280.4L735.6 280.4L738.0 300.0L741.2 300.0L744.0 330.0L746.1 352.5L747.5 405.0L749.0 350.0L750.5 345.0" stroke="#c81414" stroke-width="3.2" stroke-dasharray="2 1"/>
</g>
<rect x="57.5" y="5.5" width="693.0" height="546.0" fill="none" stroke="#505050" stroke-width="1"/>
<text x="57.50" y="570.8" text-anchor="middle">0</text>
<line x1="143.50" y1="551.5" x2="143.50" y2="545.0" stroke="#404040"/>
<line x1="143.50" y1="5.5" x2="143.50" y2="12.0" stroke="#404040"/>
<text x="143.50" y="570.8" text-anchor="middle">500</text>
<line x1="230.50" y1="551.5" x2="230.50" y2="545.0" stroke="#404040"/>
<line x1="230.50" y1="5.5" x2="230.50" y2="12.0" stroke="#404040"/>
<text x="230.50" y="570.8" text-anchor="middle">1000</text>
<line x1="316.50" y1="551.5" x2="316.50" y2="545.0" stroke="#404040"/>
<line x1="316.50" y1="5.5" x2="316.50" y2="12.0" stroke="#404040"/>
<text x="316.50" y="570.8" text-anchor="middle">1500</text>
<line x1="403.50" y1="551.5" x2="403.50" y2="545.0" stroke="#404040"/>
<line x1="403.50" y1="5.5" x2="403.50" y2="12.0" stroke="#404040"/>
<text x="403.50" y="570.8" text-anchor="middle">2000</text>
<line x1="490.50" y1="551.5" x2="490.50" y2="545.0" stroke="#404040"/>
<line x1="490.50" y1="5.5" x2="490.50" y2="12.0" stroke="#404040"/>
<text x="490.50" y="570.8" text-anchor="middle">2500</text>
<line x1="576.50" y1="551.5" x2="576.50" y2="545.0" stroke="#404040"/>
<line x1="576.50" y1="5.5" x2="576.50" y2="12.0" stroke="#404040"/>
<text x="576.50" y="570.8" text-anchor="middle">3000</text>
<line x1="663.50" y1="551.5" x2="663.50" y2="545.0" stroke="#404040"/>
<line x1="663.50" y1="5.5" x2="663.50" y2="12.0" stroke="#404040"/>
<text x="663.50" y="570.8" text-anchor="middle">3500</text>
<text x="750.50" y="570.8" text-anchor="middle">4000</text>
<text x="52.9" y="11.80" text-anchor="end">-30</text>
<line x1="57.5" y1="66.50" x2="64.0" y2="66.50" stroke="#404040"/>
<line x1="750.5" y1="66.50" x2="744.0" y2="66.50" stroke="#404040"/>
<text x="52.9" y="72.80" text-anchor="end">-40</text>
<line x1="57.5" y1="126.50" x2="64.0" y2="126.50" stroke="#404040"/>
<line x1="750.5" y1="126.50" x2="744.0" y2="126.50" stroke="#404040"/>
<text x="52.9" y="132.80" text-anchor="end">-50</text>
<line x1="57.5" y1="187.50" x2="64.0" y2="187.50" stroke="#404040"/>
<line x1="750.5" y1="187.50" x2="744.0" y2="187.50" stroke="#404040"/>
<text x="52.9" y="193.80" text-anchor="end">-60</text>
<line x1="57.5" y1="248.50" x2="64.0" y2="248.50" stroke="#404040"/>
<line x1="750.5" y1="248.50" x2="744.0" y2="248.50" stroke="#404040"/>
<text x="52.9" y="254.80" text-anchor="end">-70</text>
<line x1="57.5" y1="308.50" x2="64.0" y2="308.50" stroke="#404040"/>
<line x1="750.5" y1="308.50" x2="744.0" y2="308.50" stroke="#404040"/>
<text x="52.9" y="314.80" text-anchor="end">-80</text>
<line x1="57.5" y1="369.50" x2="64.0" y2="369.50" stroke="#404040"/>
<line x1="750.5" y1="369.50" x2="744.0" y2="369.50" stroke="#404040"/>
<text x="52.9" y="375.80" text-anchor="end">-90</text>
<line x1="57.5" y1="430.50" x2="64.0" y2="430.50" stroke="#404040"/>
<line x1="750.5" y1="430.50" x2="744.0" y2="430.50" stroke="#404040"/>
<text x="52.9" y="436.80" text-anchor="end">-100</text>
<line x1="57.5" y1="490.50" x2="64.0" y2="490.50" stroke="#404040"/>
<line x1="750.5" y1="490.50" x2="744.0" y2="490.50" stroke="#404040"/>
<text x="52.9" y="496.80" text-anchor="end">-110</text>
<text x="52.9" y="557.80" text-anchor="end">-120</text>
<text x="404" y="589.5" text-anchor="middle">Frequency(Hz)</text>
<text transform="translate(12.3 279.2) rotate(-90)" text-anchor="middle">Amplitude(dB)</text>
<rect x="418.5" y="56.5" width="317" height="70" fill="#fff" stroke="#333"/>
<line x1="428" y1="70" x2="476" y2="70" stroke="#000" stroke-width="3.5"/>
<line x1="428" y1="91.5" x2="476" y2="91.5" stroke="#aba6fd" stroke-width="3.2"/>
<line x1="428" y1="91.5" x2="476" y2="91.5" stroke="#948cf9" stroke-width="3" stroke-dasharray="2.3 2.3"/>
<line x1="428" y1="113" x2="476" y2="113" stroke="#c81414" stroke-width="3.2" stroke-dasharray="2 1"/>
<text x="481" y="75">Spectrum of Original Speech</text>
<text x="481" y="96.5">Spectrum of Conventianal Algorithm</text>
<text x="481" y="118">Spectrum of Hybrid Algorithm</text>
</svg>
</body></html>
